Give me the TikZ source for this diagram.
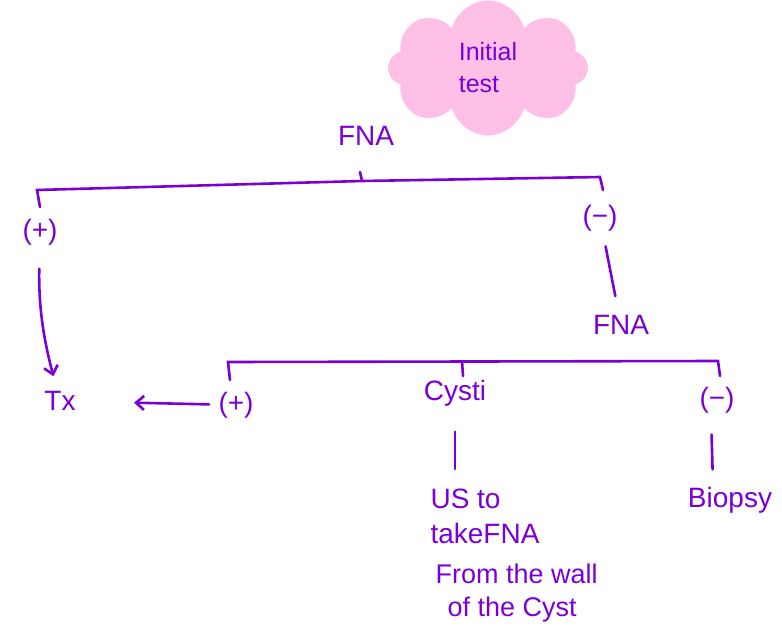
\documentclass[tikz,border=0pt]{standalone}
\usepackage{fontspec}
\setmainfont{Liberation Sans}
\usetikzlibrary{shapes.symbols,arrows.meta}
\definecolor{pen}{RGB}{122,0,214}
\definecolor{puff}{RGB}{255,192,232}
\begin{document}
\begin{tikzpicture}
  [x=1pt,y=-1pt,every node/.style={text=pen,font=\fontsize{28}{35}\selectfont},
   stroke/.style={line width=2.6pt,pen,line cap=round},
   >={Straight Barb[length=8pt,width=14pt]}]
\useasboundingbox (0,0) rectangle (782,637);
\node (cloud)[cloud,cloud puffs=8,aspect=1.4,fill=puff,minimum width=200pt,minimum height=135pt,
  align=left,font=\fontsize{25}{32}\selectfont] at (488,68) {Initial\\test};
\node (fna1) at (366,136) {FNA};
\node (pos1) at (40,232) {(+)};
\node (neg1) at (600,218) {(−)};
\node (tx) at (60,401) {Tx};
\node (fna2) at (621,325) {FNA};
\node (pos2) at (236,405) {(+)};
\node (cyst) at (455,393) {Cysti};
\node (neg2) at (717,400) {(−)};
\node (usfna)[anchor=north west,align=left] at (427,485) {US to\\takeFNA};
\node (wall)[anchor=north west,align=left,font=\fontsize{27}{33}\selectfont] at (432,560) {From the wall\\\hspace{12pt}of the Cyst};
\node (biopsy) at (730,500) {Biopsy};

 \coordinate (bar1l) at (37,190);
 \coordinate (bar1r) at (600,177);
 \draw [stroke] (40,207) -- (bar1l) -- (362,181) -- (bar1r) -- (603,190);
 \draw [stroke] (360,172) -- (362,181);

 \coordinate (bar2l) at (228,362);
 \coordinate (bar2r) at (718,361);
 \draw [stroke] (230,380) -- (bar2l) -- (bar2r) -- (720,376);
 \draw [stroke] (462,361) -- (463,376);

 \path [stroke] (pos1) edge [->,bend right=8,shorten <=20pt,shorten >=12pt] (tx);
 \path [stroke] (neg1) edge [shorten <=12pt,shorten >=16pt] (fna2);
 \path [stroke] (pos2) edge [->,shorten <=6pt,shorten >=55pt] (tx);
 \path [stroke] (cyst.south) edge [shorten <=22pt,shorten >=16pt] (cyst.south |- usfna.north);
 \path [stroke] ([xshift=-6pt]neg2.south) edge [shorten <=18pt,shorten >=14pt] ([xshift=-4pt]neg2.south |- biopsy.north);
;
\end{tikzpicture}
\end{document}
